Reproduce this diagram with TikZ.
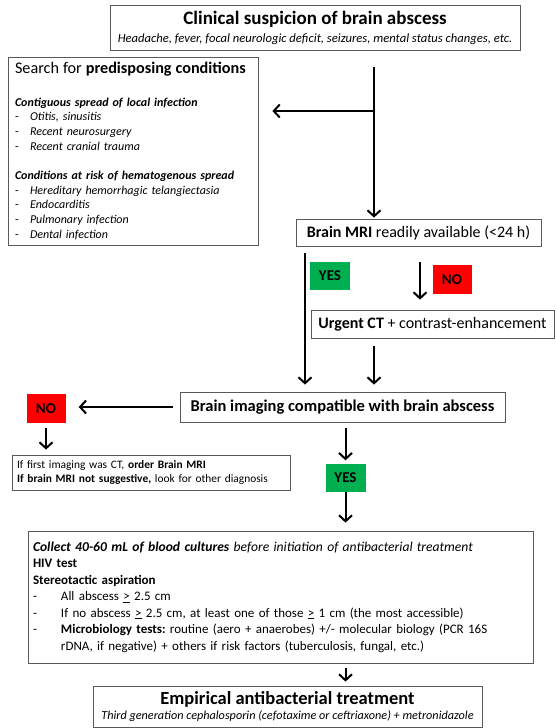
\documentclass[tikz,border=0pt]{standalone}
\usepackage{fontspec}
\setmainfont{Carlito}
\usetikzlibrary{arrows.meta}

\definecolor{yesgreen}{HTML}{00B050}
\definecolor{nored}{HTML}{FF0000}
\newcommand{\dashitem}[2][15pt]{\makebox[#1][l]{-}#2}

\begin{document}
\frenchspacing
\begin{tikzpicture}[x=1pt, y=-1pt,
    box/.style={rectangle, draw=black!65, line width=0.8pt, inner sep=0pt},
    yes/.style={rectangle, fill=yesgreen, minimum width=40pt, minimum height=28pt, font=\fontsize{15}{17}\selectfont\bfseries},
    no/.style={rectangle, fill=nored, minimum width=39pt, minimum height=29pt, font=\fontsize{15}{17}\selectfont\bfseries},
    arr/.style={-{Straight Barb[length=6pt, width=13pt, line width=2pt]}, line width=2pt, shorten <=6pt, shorten >=6pt}
]
\useasboundingbox (0,0) rectangle (555,728);

% Top level
\node[box, minimum width=410pt, minimum height=45pt, align=center, font=\fontsize{12.6}{18.5}\selectfont] (susp) at (315,28)
  {{\fontsize{19}{21}\selectfont\bfseries Clinical suspicion of brain abscess}\\
   \itshape Headache, fever, focal neurologic deficit, seizures, mental status changes, etc.};

\node[box, minimum width=250pt, minimum height=188pt, text width=236pt, align=left, font=\fontsize{12}{14.6}\selectfont] (pred) at (133,151)
  {{\fontsize{16.2}{18}\selectfont Search for \textbf{predisposing conditions}}\\[18pt]
   \textbf{\textit{Contiguous spread of local infection}}\\
   \dashitem{\textit{Otitis, sinusitis}}\\
   \dashitem{\textit{Recent neurosurgery}}\\
   \dashitem{\textit{Recent cranial trauma}}\\[15pt]
   \textbf{\textit{Conditions at risk of hematogenous spread}}\\
   \dashitem{\textit{Hereditary hemorrhagic telangiectasia}}\\
   \dashitem{\textit{Endocarditis}}\\
   \dashitem{\textit{Pulmonary infection}}\\
   \dashitem{\textit{Dental infection}}};

% Imaging
\node[box, minimum width=245pt, minimum height=27pt, font=\fontsize{16}{18}\selectfont] (mri) at (418.5,232.5)
  {\textbf{Brain MRI} readily available (<24 h)};
\node[yes] (yes1) at (330,276) {YES};
\node[no] (no1) at (452,279.5) {NO};
\node[box, minimum width=243pt, minimum height=28pt, font=\fontsize{16}{18}\selectfont] (ct) at (432.5,324)
  {\textbf{Urgent CT} + contrast-enhancement};
\node[box, minimum width=325pt, minimum height=30pt, font=\fontsize{16.5}{19}\selectfont\bfseries] (img) at (342.5,407)
  {Brain imaging compatible with brain abscess};

% Negative branch
\node[no] (no2) at (46,408.5) {NO};
\node[box, minimum width=278pt, minimum height=35pt, inner xsep=5pt, text width=268pt, align=left, font=\fontsize{11.4}{14.5}\selectfont] (sugg) at (151,472.5)
  {If first imaging was CT, \textbf{order Brain MRI}\\
   \textbf{If brain MRI not suggestive,} look for other diagnosis};

% Positive branch
\node[yes] (yes2) at (345.5,477.5) {YES};
\node[box, minimum width=505pt, minimum height=132pt, text width=495pt, align=left, font=\fontsize{13}{16.5}\selectfont] (blood) at (280.5,597)
  {{\fontsize{13.6}{16.5}\selectfont\textbf{\textit{Collect 40-60 mL of blood cultures}} \textit{before initiation of antibacterial treatment}}\\
   \textbf{HIV test}\\
   \textbf{Stereotactic aspiration}\\
   \dashitem[28pt]{All abscess \underline{>} 2.5 cm}\\
   \dashitem[28pt]{If no abscess \underline{>} 2.5 cm, at least one of those \underline{>} 1 cm (the most accessible)}\\
   \dashitem[28pt]{\textbf{Microbiology tests:} routine (aero + anaerobes) +/- molecular biology (PCR 16S}\\
   \hspace*{28pt}rDNA, if negative) + others if risk factors (tuberculosis, fungal, etc.)};
\node[box, minimum width=389pt, minimum height=41pt, align=center, font=\fontsize{12.2}{15}\selectfont] (emp) at (287.5,706.5)
  {{\fontsize{18.5}{20}\selectfont\bfseries Empirical antibacterial treatment}\\
   \itshape Third generation cephalosporin (cefotaxime or ceftriaxone) + metronidazole};

% Arrows
\coordinate (split) at (374,67);
\coordinate (branch) at (374,111);
\coordinate (yesx) at (305,0);
\coordinate (nox) at (420,0);
\draw[arr, shorten <=0pt, shorten >=1pt] (split) -- (split |- mri.north);
\draw[arr, shorten <=0pt, shorten >=14pt] (branch) -- (branch -| pred.east);
\draw[arr, shorten <=7pt, shorten >=7pt] (mri.south -| yesx) -- (img.north -| yesx);
\draw[arr, shorten <=16pt, shorten >=10pt] (mri.south -| nox) -- (ct.north -| nox);
\draw[arr, shorten <=8pt, shorten >=7pt] (ct.south -| split) -- (img.north -| split);
\draw[arr, shorten <=7pt, shorten >=13pt] (img.west) -- (img.west -| no2.east);
\draw[arr, shorten <=5pt, shorten >=5pt] (no2.south) -- (no2.south |- sugg.north);
\draw[arr, shorten <=6pt, shorten >=3pt] (img.south -| yes2) -- (yes2.north);
\draw[arr, shorten <=0pt, shorten >=8pt] (yes2.south) -- (yes2.south |- blood.north);
\draw[arr, shorten <=5pt, shorten >=4pt] (blood.south -| yes2) -- (emp.north -| yes2);

\end{tikzpicture}
\end{document}
